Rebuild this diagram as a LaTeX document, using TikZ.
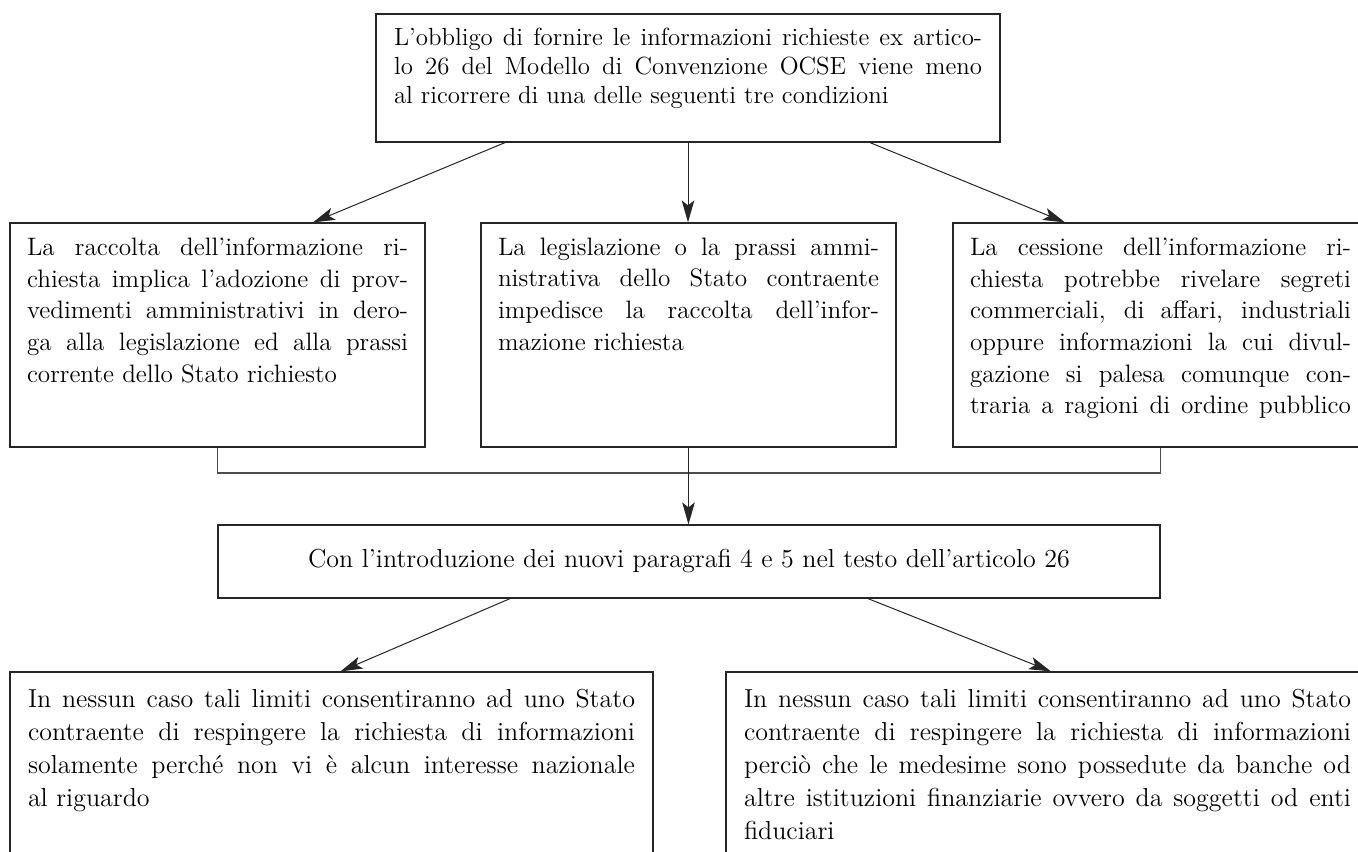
\documentclass[tikz,border=0pt]{standalone}
\usepackage{fontspec}
\usetikzlibrary{arrows.meta}
\newcommand{\jl}[1]{\hbox to \linewidth{#1}}
\newcommand{\lastl}[1]{\hbox to \linewidth{#1\hfil}}
\tikzset{
  fbox/.style={draw=black!85, line width=0.6pt, inner ysep=0pt, inner xsep=9pt},
  arr/.style={draw=black!85, line width=0.5pt, -{Stealth[length=11pt,width=6.3pt,inset=2.5pt]}},
  link/.style={draw=black!70, line width=0.7pt}
}
\begin{document}
\begin{tikzpicture}[x=0.5pt,y=-0.5pt]
\useasboundingbox (0,0) rectangle (1358,851);
\clip (0,0) rectangle (1358,851);
% top box
\node[fbox] (top) at (688,78) {\parbox[c][64pt][t]{294pt}{\fontsize{12.4}{14.5}\selectfont\vspace*{7.1pt}%
\jl{L’obbligo di fornire le informazioni richieste ex artico-}
\jl{lo 26 del Modello di Convenzione OCSE viene meno}
\lastl{al ricorrere di una delle seguenti tre condizioni}}};
% middle row
\node[fbox, inner xsep=8.5pt] (cl) at (217.5,335) {\parbox[c][112pt][t]{190.5pt}{\fontsize{12.6}{15.85}\selectfont\vspace*{7.3pt}%
\jl{La raccolta dell’informazione ri-}
\jl{chiesta implica l’adozione di prov-}
\jl{vedimenti amministrativi in dero-}
\jl{ga alla legislazione ed alla prassi}
\lastl{corrente dello Stato richiesto}}};
\node[fbox, inner xsep=8.5pt] (cm) at (688.5,335) {\parbox[c][112pt][t]{190.5pt}{\fontsize{12.6}{15.85}\selectfont\vspace*{7.3pt}%
\jl{La legislazione o la prassi ammi-}
\jl{nistrativa dello Stato contraente}
\jl{impedisce la raccolta dell’infor-}
\lastl{mazione richiesta}}};
\node[fbox, inner xsep=8.5pt] (cr) at (1160.5,335) {\parbox[c][112pt][t]{190.5pt}{\fontsize{12.6}{15.85}\selectfont\vspace*{7.3pt}%
\jl{La cessione dell’informazione ri-}
\jl{chiesta potrebbe rivelare segreti}
\jl{commerciali, di affari, industriali}
\jl{oppure informazioni la cui divul-}
\jl{gazione si palesa comunque con-}
\jl{traria a ragioni di ordine pubblico}}};
% con box
\node[fbox] (con) at (689,561.5) {\parbox[c][36.5pt][c]{453pt}{\centering\fontsize{13}{16}\selectfont
Con l’introduzione dei nuovi paragrafi 4 e 5 nel testo dell’articolo 26}};
% bottom boxes
\node[fbox] (bl) at (331.5,772) {\parbox[c][100pt][t]{303.5pt}{\fontsize{13}{16.5}\selectfont\vspace*{8.4pt}%
\jl{In nessun caso tali limiti consentiranno ad uno Stato}
\jl{contraente di respingere la richiesta di informazioni}
\jl{solamente perché non vi è alcun interesse nazionale}
\lastl{al riguardo}}};
\node[fbox] (br) at (1047.5,772) {\parbox[c][100pt][t]{303.5pt}{\fontsize{13}{16.5}\selectfont\vspace*{8.4pt}%
\jl{In nessun caso tali limiti consentiranno ad uno Stato}
\jl{contraente di respingere la richiesta di informazioni}
\jl{perciò che le medesime sono possedute da banche od}
\jl{altre istituzioni finanziarie ovvero da soggetti od enti}
\lastl{fiduciari}}};
% arrows from top
\draw[arr] ([xshift=-91.5pt]top.south) -- ([xshift=47.75pt]cl.north);
\draw[arr] (top.south) -- (top.south |- cm.north);
\draw[arr] ([xshift=91pt]top.south) -- ([xshift=-47.75pt]cr.north);
% bracket
\coordinate (bj) at (688.5,473);
\draw[link] (cl.south) -- (cl.south |- bj) -- (cr.south |- bj) -- (cr.south);
\draw[arr] (cm.south) -- (cm.south |- con.north);
% arrows to bottom
\draw[arr] ([xshift=-89.5pt]con.south) -- ([xshift=4.5pt]bl.north);
\draw[arr] ([xshift=89.5pt]con.south) -- ([xshift=1.75pt]br.north);
\end{tikzpicture}
\end{document}
